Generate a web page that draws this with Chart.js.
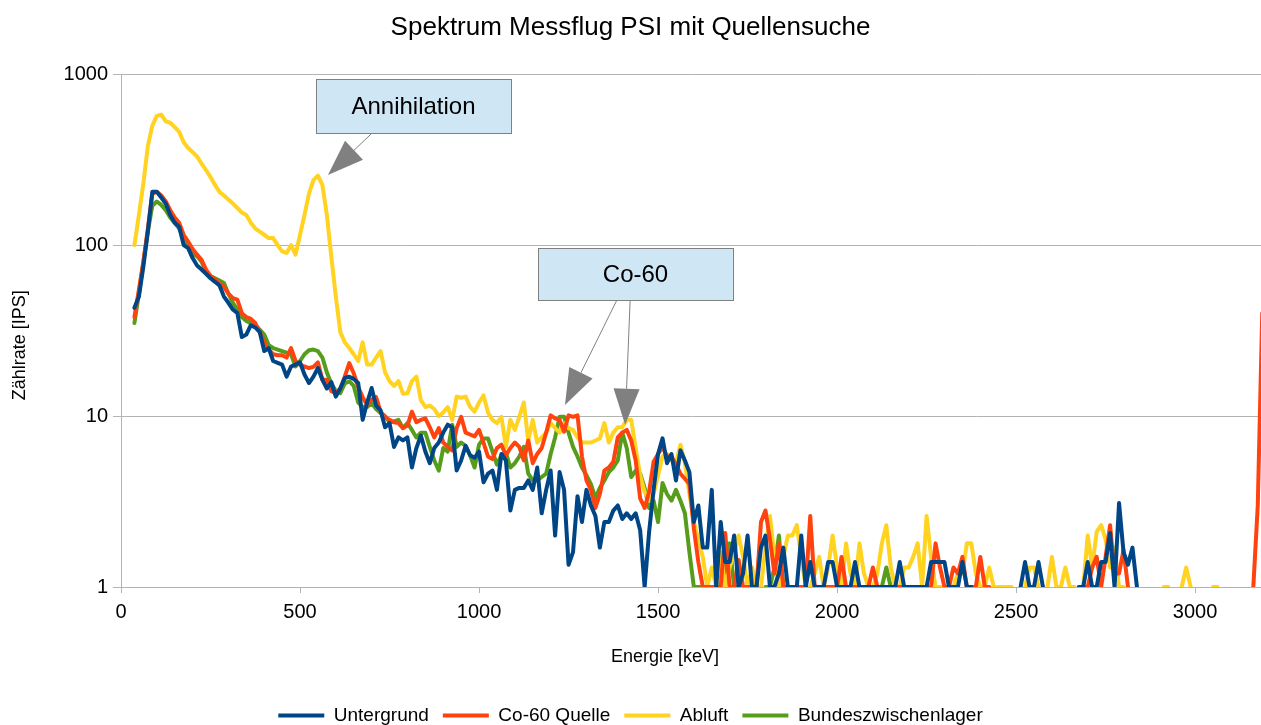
<!DOCTYPE html>
<html>
<head>
<meta charset="utf-8">
<script src="https://cdn.jsdelivr.net/npm/chart.js@4.4.1/dist/chart.umd.min.js"></script>
<style>
html,body{margin:0;padding:0;background:#fff;}
#wrap{width:1261px;height:725px;}
</style>
</head>
<body>
<div id="wrap"><canvas id="c" width="1261" height="725"></canvas></div>
<script>
// ---- data (channel energies in keV, count rates in IPS) ----
const energies = [
37.5,50,62.5,75,87.5,100,112.5,125,137.5,150,
162.5,175,187.5,200,212.5,225,237.5,250,262.5,275,
287.5,300,312.5,325,337.5,350,362.5,375,387.5,400,
412.5,425,437.5,450,462.5,475,487.5,500,512.5,525,
537.5,550,562.5,575,587.5,600,612.5,625,637.5,650,
662.5,675,687.5,700,712.5,725,737.5,750,762.5,775,
787.5,800,812.5,825,837.5,850,862.5,875,887.5,900,
912.5,925,937.5,950,962.5,975,987.5,1000,1012.5,1025,
1037.5,1050,1062.5,1075,1087.5,1100,1112.5,1125,1137.5,1150,
1162.5,1175,1187.5,1200,1212.5,1225,1237.5,1250,1262.5,1275,
1287.5,1300,1312.5,1325,1337.5,1350,1362.5,1375,1387.5,1400,
1412.5,1425,1437.5,1450,1462.5,1475,1487.5,1500,1512.5,1525,
1537.5,1550,1562.5,1575,1587.5,1600,1612.5,1625,1637.5,1650,
1662.5,1675,1687.5,1700,1712.5,1725,1737.5,1750,1762.5,1775,
1787.5,1800,1812.5,1825,1837.5,1850,1862.5,1875,1887.5,1900,
1912.5,1925,1937.5,1950,1962.5,1975,1987.5,2000,2012.5,2025,
2037.5,2050,2062.5,2075,2087.5,2100,2112.5,2125,2137.5,2150,
2162.5,2175,2187.5,2200,2212.5,2225,2237.5,2250,2262.5,2275,
2287.5,2300,2312.5,2325,2337.5,2350,2362.5,2375,2387.5,2400,
2412.5,2425,2437.5,2450,2462.5,2475,2487.5,2500,2512.5,2525,
2537.5,2550,2562.5,2575,2587.5,2600,2612.5,2625,2637.5,2650,
2662.5,2675,2687.5,2700,2712.5,2725,2737.5,2750,2762.5,2775,
2787.5,2800,2812.5,2825,2837.5,2850,2862.5,2875,2887.5,2900,
2912.5,2925,2937.5,2950,2962.5,2975,2987.5,3000,3012.5,3025,
3037.5,3050,3062.5,3075,3087.5,3100,3112.5,3125,3137.5,3150,
3162.5,3175,3187.5
];

const untergrund = [
43,50,75,120,205,205,190,175,150,135,
128,100,96,84,76,72,68,64,61,58,
50,46,42,40,29,30,34,33,31,24,
25,21,20.5,20,17,19.5,20,20.6,17.5,15.6,
17,19.1,16.3,14.5,15.8,13,14.5,16.7,17,16.5,
15.6,9.5,12,14.6,11.5,10.8,8.6,9.1,6.6,7.5,
7.2,7.5,5,6.5,7.7,6.2,5.3,6.5,7,8,
8.9,8.6,4.8,5.5,6.7,5.9,5.7,6.2,4.1,4.6,
4.8,3.7,6,5.5,2.8,3.7,3.8,3.8,4.2,3.7,
5,2.7,3.7,4.8,2,4.7,3.7,1.35,1.6,3.4,
2.4,3.7,3,2.6,1.7,2.4,2.4,2.8,3,2.5,
2.7,2.5,2.7,2.15,1,2.1,3.7,6,7.4,5.3,
6,4.2,6.3,5.5,4.7,2.4,3,1.7,1.7,3.7,
1,2.4,1.4,1.4,2,1,1.2,2,1,1,
1.7,2,1,1,1.2,1.7,1,1,1,2,
1,1.4,1,1,1,1.4,1.4,1,1,1,
1,1.4,1,1,1,1,1,1,1,1,
1,1.4,1,1,1,1,1,1,1.4,1.4,
1.4,1.4,1,1,1,1.4,1,1,null,null,
null,null,null,null,null,null,null,null,1,1.4,
1,1,1.4,1,null,null,null,null,null,null,
null,1,1,1.4,1,1,1.4,1.4,2.07,1,
3.1,1.6,1.35,1.7,1,null,null,null,null,null,
null,null,null,null,null,null,null,null,null,null,
null,null,null,null,null,null,null,null,null,null,
null,null,null
];

const co60Quelle = [
38,55,80,125,200,205,195,180,160,145,
135,115,105,95,88,82,72,66,63,60,
57,52,49,48,40,38,37,35,31,27,
24.5,23,22.7,22.7,22,25,21,20,19.5,19.1,
19.4,20.6,16.3,16.3,14,13.6,14.5,17,20.4,17.8,
14.8,12.9,11.6,12.5,12.9,10.6,9.9,9.5,9.2,9.1,
8.5,8.8,10.6,9.2,9.5,9.7,8.6,7.5,8.5,7,
6.6,6.3,8.5,9.9,8,7.8,7.6,8.3,7,5.8,
5.6,6.5,6.8,5.9,6.5,7,6.6,5.5,7.2,5.3,
6,6.5,8,10.1,9.7,9.5,8.1,10.1,9.9,10.1,
5.8,4.2,3.7,2.9,3.5,4.8,5,5.4,7.5,8,
8.3,7.2,5.5,3.3,2.9,3.6,5.4,6,6.6,5.8,
5.8,5.2,4.6,4.3,4,2.2,1.4,1,1,1,
1,1,2.07,1,1,1.44,1,1,1,1,
2.4,2.8,1.9,1.2,1.8,1,1,1,1,1,
1,2.6,1,1,1,1,1,1,1.5,1,
1,1,1,1,1,1.3,1,1,1,1,
1,1,1,1,1,1,1,1,1,1.8,
1.3,1,1,1.3,1.2,1.5,1,1,1,1.5,
1,1,null,null,null,null,null,null,null,null,
null,null,null,null,null,null,null,null,null,null,
null,null,1,1,1.3,1.5,1,1.5,2.3,1.2,
1.2,1.65,1,null,null,null,null,null,null,null,
null,null,null,null,null,null,null,null,null,null,
null,null,null,null,null,null,null,null,null,null,
1,3,40
];

const abluft = [
100,150,230,380,500,570,580,530,520,490,
460,400,370,350,330,300,275,250,225,205,
195,185,175,165,155,150,135,125,120,115,
110,110,100,92,90,100,88,115,150,200,
240,255,225,150,85,50,31,27,25,23,
21,27,20,20,22,24,18,16,15,16,
13.5,13.6,16,17,12.4,11.3,11.5,11,10,10.5,
11.3,9.5,13,12.8,13,11.3,10.6,12,13.2,10.5,
9.5,9.1,9.9,6.6,9.5,8.3,9.9,12,7.2,9.5,
7,7.5,8,9.1,8.5,8,9.1,8.5,8.3,7.5,
7,7,7,7.2,7.4,9.1,7,8,8.6,8.6,
9.5,9.5,6.5,4.5,3.6,3.2,3.5,4.5,5.8,6,
5.5,5.3,6.8,5.3,3.5,2.4,1.9,1.5,1,1.3,
1,1.6,1,1.3,1.6,2,1.5,1,1.3,1,
1,1.7,2.6,1.5,1,1.5,2,2,2.3,1.5,
1,1,1.2,1.5,1,1.3,2,1.3,1,1.8,
1.2,1,1.8,1.2,1,1,1.2,1.8,2.3,1.3,
1,1,1.3,1.3,1.5,1.8,1,2.6,1.5,1,
1,1,1,1,1.2,1.2,1.8,1.8,1.2,1,
1,1.3,1,1,1,1,1,null,null,1,
1.3,1.3,1,null,1,1.5,1,1,1.3,1,
1,null,1,2,1.3,2.1,2.3,1.9,1.3,1.7,
1,1,null,null,null,null,null,null,null,null,
1,1,null,null,1,1.3,1,null,null,null,
null,1,1,null,null,null,null,null,null,null,
null,null,null
];

const bundeszwischenlager = [
35,52,80,120,170,180,172,160,145,135,
125,110,100,90,86,80,70,66,64,62,
60,52,46,42,38,36,35,34,32,30,
26,25,24.5,24,23.5,23,19.5,21,23,24.3,
24.5,24,22,18,15.5,14,13.6,15.5,16,15,
12,11.3,11.3,11.9,11,10.4,10,9.2,9.3,9.5,
8.5,9.1,8.3,7.5,8,8,6.6,5.5,4.8,6.5,
6.2,8.9,6.6,7,6.7,5.9,5,6.8,7.4,7.4,
6.2,5.2,5.9,6.1,5,5.3,5.8,6.6,4.6,4.2,
4.2,4.4,4.6,6,7.5,9.9,9.9,8,6.6,5.8,
5,4.5,4,3.3,3.8,4.2,4.7,5,5.5,8,
6.5,4.4,4.8,4.6,3.8,2.9,3.2,2.4,4.06,3.5,
3.2,3.7,3.2,2.7,1.6,1,1,1,1,1,
1,1.5,1.2,1.8,1,1,null,null,null,null,
null,1,1,1.3,2,1,null,null,null,null,
null,null,null,null,null,null,null,null,null,null,
null,null,null,null,null,null,null,1,1.3,1,
null,null,null,null,null,null,null,null,null,null,
null,null,null,null,null,null,null,null,null,null,
null,null,null,null,null,null,null,null,null,null,
null,null,null,null,null,null,null,null,null,null,
null,null,null,null,null,null,null,null,null,null,
null,null,null,null,null,null,null,null,null,null,
null,null,null,null,null,null,null,null,null,null,
null,null,null,null,null,null,null,null,null,null,
null,null,null
];

const seriesNames = ['Untergrund', 'Co-60 Quelle', 'Abluft', 'Bundeszwischenlager'];
const xTicks = [0, 500, 1000, 1500, 2000, 2500, 3000];
const yTicks = [1, 10, 100, 1000];
const chartTitle = 'Spektrum Messflug PSI mit Quellensuche';
const xTitle = 'Energie [keV]';
const yTitle = 'Zählrate [IPS]';

// callouts: box corners and arrow endpoints in data coordinates (keV, IPS)
const callouts = [
  { label: 'Annihilation', x0: 545, x1: 1089, yTop: 935, yBottom: 452,
    arrows: [[701, 452, 578, 257]] },
  { label: 'Co-60', x0: 1165, x1: 1709, yTop: 96, yBottom: 47.7,
    arrows: [[1385, 47.7, 1240, 11.6], [1422, 47.7, 1408, 8.9]] }
];

// ---- styling ----
const FONT = "'Liberation Sans', Arial, sans-serif";
const colors = ['#004586', '#ff420e', '#ffd320', '#579d1c'];
const PLOT_LEFT = 121, PLOT_BOTTOM = 587, LEGEND_SHIFT = 10;

Chart.defaults.font.family = FONT;
Chart.defaults.color = '#000';

function drawArrow(ctx, x1, y1, x2, y2) {
  const len = 36, half = 13;
  const dx = x2 - x1, dy = y2 - y1, d = Math.hypot(dx, dy);
  const ux = dx / d, uy = dy / d;
  const bx = x2 - ux * len, by = y2 - uy * len;
  ctx.strokeStyle = '#808080';
  ctx.lineWidth = 1;
  ctx.beginPath(); ctx.moveTo(x1, y1); ctx.lineTo(bx, by); ctx.stroke();
  ctx.fillStyle = '#808080';
  ctx.beginPath();
  ctx.moveTo(x2, y2);
  ctx.lineTo(bx - uy * half, by + ux * half);
  ctx.lineTo(bx + uy * half, by - ux * half);
  ctx.closePath(); ctx.fill();
}

const calloutPlugin = {
  id: 'callouts',
  afterDatasetsDraw(chart) {
    const ctx = chart.ctx, xs = chart.scales.x, ys = chart.scales.y;
    ctx.save();
    callouts.forEach(c => {
      const l = xs.getPixelForValue(c.x0), r = xs.getPixelForValue(c.x1);
      const t = ys.getPixelForValue(c.yTop), b = ys.getPixelForValue(c.yBottom);
      c.arrows.forEach(a => drawArrow(ctx, xs.getPixelForValue(a[0]), ys.getPixelForValue(a[1]),
                                          xs.getPixelForValue(a[2]), ys.getPixelForValue(a[3])));
      ctx.fillStyle = '#cfe7f5';
      ctx.fillRect(l, t, r - l, b - t);
      ctx.strokeStyle = '#808080'; ctx.lineWidth = 1;
      ctx.strokeRect(Math.round(l) + 0.5, Math.round(t) + 0.5, Math.round(r - l), Math.round(b - t));
      ctx.fillStyle = '#000';
      ctx.font = '24px ' + FONT;
      ctx.textAlign = 'center'; ctx.textBaseline = 'middle';
      ctx.fillText(c.label, (l + r) / 2, (t + b) / 2 + 1);
    });
    ctx.restore();
  }
};

const axisTitlePlugin = {
  id: 'axisTitles',
  afterLayout(chart) {
    // move the legend row down to the bottom edge, as in the original
    chart.legend.top += LEGEND_SHIFT;
    chart.legend.bottom += LEGEND_SHIFT;
  },
  afterDraw(chart) {
    const ctx = chart.ctx, area = chart.chartArea;
    ctx.save();
    ctx.fillStyle = '#000';
    ctx.font = '18px ' + FONT;
    ctx.textAlign = 'center'; ctx.textBaseline = 'middle';
    ctx.fillText(xTitle, area.left + 544, area.bottom + 70);
    ctx.translate(20, area.top + 271);
    ctx.rotate(-Math.PI / 2);
    ctx.fillText(yTitle, 0, 0);
    ctx.restore();
  }
};

const seriesValues = [untergrund, co60Quelle, abluft, bundeszwischenlager];

new Chart(document.getElementById('c'), {
  type: 'line',
  data: {
    datasets: seriesValues.map((vals, k) => ({
      label: seriesNames[k],
      data: energies.map((e, i) => ({ x: e, y: vals[i] })),
      borderColor: colors[k],
      backgroundColor: colors[k],
      borderWidth: 4,
      pointRadius: 0,
      tension: 0,
      spanGaps: false,
      borderJoinStyle: 'round',
      borderCapStyle: 'round'
    }))
  },
  options: {
    responsive: false,
    animation: false,
    events: [],
    layout: { padding: 0 },
    scales: {
      x: {
        type: 'linear', min: 0, max: 3184,
        afterBuildTicks: s => { s.ticks = xTicks.map(v => ({ value: v })); },
        afterFit: s => { s.height = s.chart.height - PLOT_BOTTOM - s.chart.legend.height; },
        ticks: { font: { size: 20 }, color: '#000', padding: 7, maxRotation: 0, autoSkip: false,
                 includeBounds: false, callback: v => String(v) },
        grid: { drawOnChartArea: false, drawTicks: true, tickLength: 6, color: '#b3b3b3' },
        border: { display: true, color: '#b3b3b3' }
      },
      y: {
        type: 'logarithmic', min: 1, max: 1000,
        afterBuildTicks: s => { s.ticks = yTicks.map(v => ({ value: v })); },
        afterFit: s => { s.width = PLOT_LEFT; },
        ticks: { font: { size: 20 }, color: '#000', padding: 5, callback: v => String(v) },
        grid: { color: '#b3b3b3', tickLength: 8, drawTicks: true },
        border: { display: true, color: '#b3b3b3' }
      }
    },
    plugins: {
      title: { display: true, text: chartTitle, color: '#000',
               font: { size: 26, weight: 'normal' }, padding: { top: 12, bottom: 31 } },
      legend: {
        position: 'bottom',
        labels: {
          boxWidth: 46, boxHeight: 4, padding: 14, color: '#000', font: { size: 19 },
          generateLabels: chart => Chart.defaults.plugins.legend.labels.generateLabels(chart)
            .map(l => Object.assign(l, { lineWidth: 0, fillStyle: l.strokeStyle }))
        }
      },
      tooltip: { enabled: false }
    }
  },
  plugins: [calloutPlugin, axisTitlePlugin]
});
</script>
</body>
</html>
